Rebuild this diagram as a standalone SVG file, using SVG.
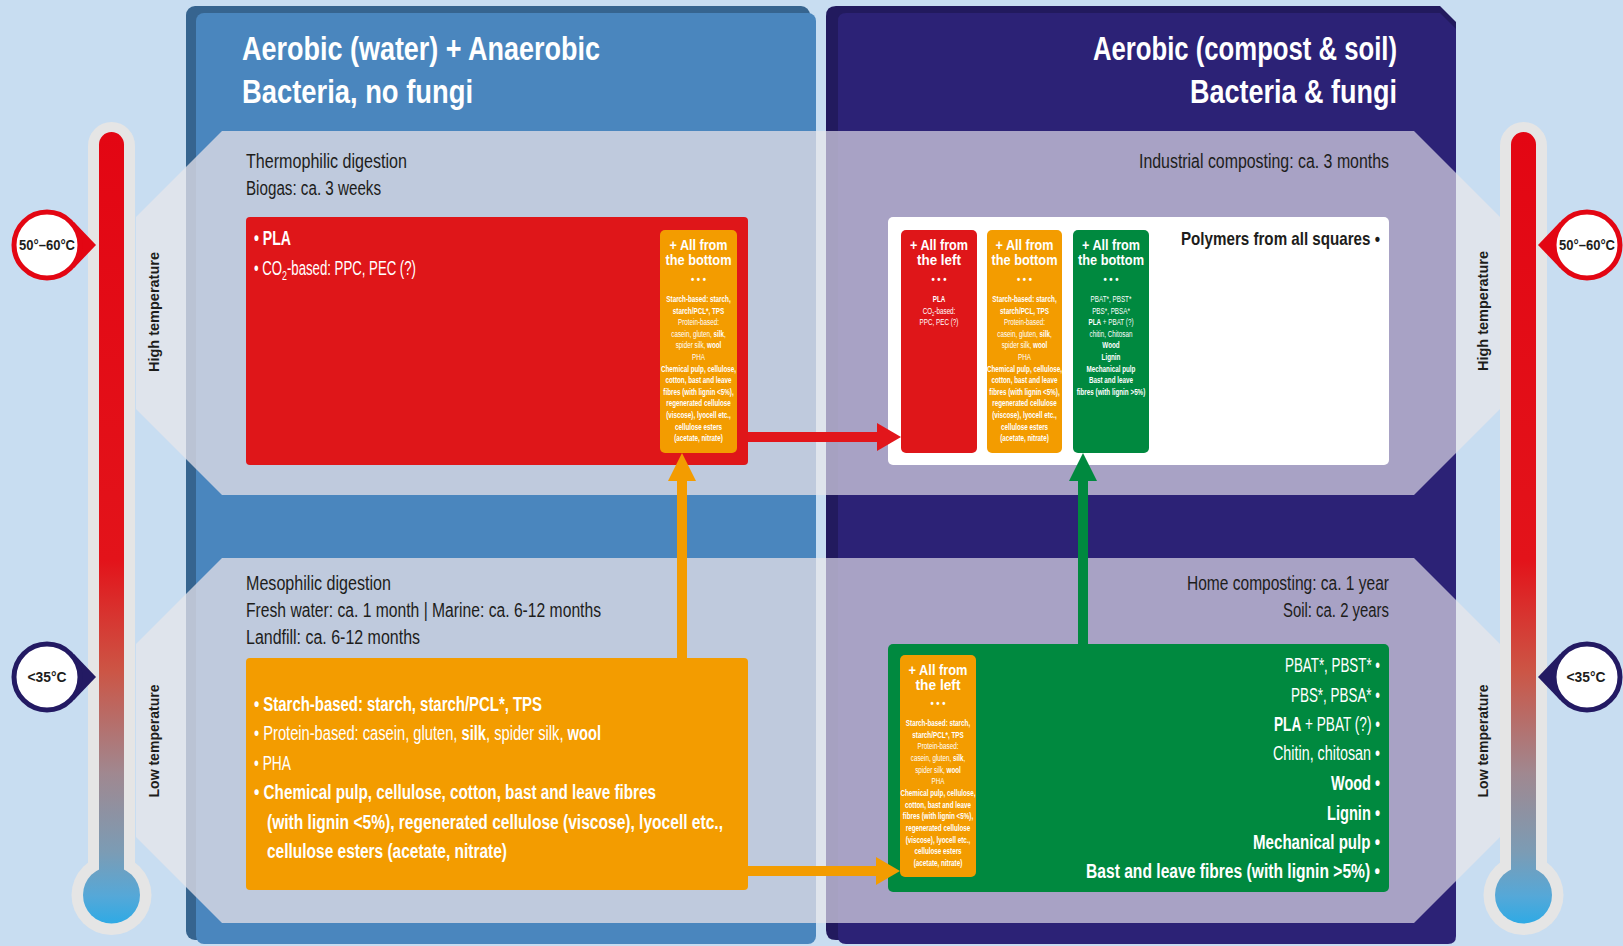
<svg xmlns="http://www.w3.org/2000/svg" width="1623" height="946" viewBox="0 0 1623 946">
<defs>
<style>
text{font-family:"Liberation Sans",Arial,sans-serif}
.b{font-weight:bold}
.title{font-size:34px;font-weight:bold;fill:#fff}
.sub{font-size:20px;fill:#1d1d1b}
.big{font-size:19.5px;fill:#fff}
.hdr{font-size:15px;font-weight:bold;fill:#fff;text-anchor:middle}
.dots{font-size:10px;font-weight:bold;fill:#fff;text-anchor:middle}
.mini{font-size:9px;fill:#fff;text-anchor:middle}
.vlab{font-size:15px;font-weight:bold;fill:#1d1d1b;text-anchor:middle}
.badge{font-size:14px;font-weight:bold;fill:#1d1d1b;text-anchor:middle}
.end{text-anchor:end}
</style>
<linearGradient id="thermoGrad" gradientUnits="userSpaceOnUse" x1="0" y1="132" x2="0" y2="924">
<stop offset="0" stop-color="#e30613"/>
<stop offset="0.54" stop-color="#e3131a"/>
<stop offset="0.68" stop-color="#cc5545"/>
<stop offset="0.81" stop-color="#a08890"/>
<stop offset="0.91" stop-color="#7b9cb5"/>
<stop offset="0.965" stop-color="#55a8d8"/>
<stop offset="1" stop-color="#2eaae5"/>
</linearGradient>
<polygon id="bandTop" points="222,131 1414,131 1500,217 1500,409 1414,495 222,495 136,409 136,217"/>
<polygon id="bandBot" points="222,558 1414,558 1500,644 1500,837 1414,923 222,923 136,837 136,644"/>
<clipPath id="cpBlue"><rect x="186" y="6" width="630" height="940"/></clipPath>
<clipPath id="cpNavy"><rect x="826" y="6" width="630" height="940"/></clipPath>
<g id="thermo">
<rect x="88" y="122" width="47" height="770" rx="23.5" fill="#e5e5e5"/>
<circle cx="111.5" cy="895" r="40" fill="#e5e5e5"/>
<rect x="99" y="132" width="25" height="760" rx="12.5" fill="url(#thermoGrad)"/>
<circle cx="111.5" cy="895" r="28.5" fill="url(#thermoGrad)"/>
</g>
</defs>

<rect x="0" y="0" width="1623" height="946" fill="#c8ddf1"/>

<g id="bands-outer">
<use href="#bandTop" fill="#dfe4ec"/>
<use href="#bandBot" fill="#dfe4ec"/>
</g>

<g id="panel-left">
<rect x="186" y="6" width="624" height="934" rx="9" fill="#36648f"/>
<rect x="196" y="13" width="620" height="931" rx="8" fill="#4a86be"/>
</g>
<g id="panel-right">
<path d="M826,16 Q826,6 836,6 L1440,6 L1456,22 L1456,930 Q1456,940 1446,940 L836,940 Q826,940 826,930 Z" fill="#221a5e"/>
<path d="M838,21 Q838,13 846,13 L1440,13 L1456,29 L1456,936 Q1456,944 1448,944 L846,944 Q838,944 838,936 Z" fill="#2c2276"/>
</g>

<g id="bands-inner">
<use href="#bandTop" clip-path="url(#cpBlue)" fill="#dcdbe5" fill-opacity="0.8"/>
<use href="#bandBot" clip-path="url(#cpBlue)" fill="#dcdbe5" fill-opacity="0.8"/>
<use href="#bandTop" clip-path="url(#cpNavy)" fill="#c8c3da" fill-opacity="0.8"/>
<use href="#bandBot" clip-path="url(#cpNavy)" fill="#c8c3da" fill-opacity="0.8"/>
</g>

<g id="thermometer-left"><use href="#thermo"/></g>
<g id="thermometer-right"><use href="#thermo" x="1412"/></g>

<g id="badge-left-high">
<polygon points="74,222 96,245 74,268" fill="#e30613"/>
<circle cx="47" cy="245" r="33" fill="#fff" stroke="#e30613" stroke-width="5"/>
<text class="badge" x="47" y="250" textLength="56" lengthAdjust="spacingAndGlyphs">50°–60°C</text>
</g>
<g id="badge-left-low">
<polygon points="74,654 96,677 74,700" fill="#231a63"/>
<circle cx="47" cy="677" r="33" fill="#fff" stroke="#231a63" stroke-width="5"/>
<text class="badge" x="47" y="682" textLength="39" lengthAdjust="spacingAndGlyphs">&lt;35°C</text>
</g>
<g id="badge-right-high">
<polygon points="1560,222 1538,245 1560,268" fill="#e30613"/>
<circle cx="1587" cy="245" r="33" fill="#fff" stroke="#e30613" stroke-width="5"/>
<text class="badge" x="1587" y="250" textLength="56" lengthAdjust="spacingAndGlyphs">50°–60°C</text>
</g>
<g id="badge-right-low">
<polygon points="1560,654 1538,677 1560,700" fill="#231a63"/>
<circle cx="1587" cy="677" r="33" fill="#fff" stroke="#231a63" stroke-width="5"/>
<text class="badge" x="1586" y="682" textLength="39" lengthAdjust="spacingAndGlyphs">&lt;35°C</text>
</g>

<g id="temp-labels">
<text class="vlab" transform="translate(159 312) rotate(-90)" textLength="120" lengthAdjust="spacingAndGlyphs">High temperature</text>
<text class="vlab" transform="translate(159 741) rotate(-90)" textLength="113" lengthAdjust="spacingAndGlyphs">Low temperature</text>
<text class="vlab" transform="translate(1488 311) rotate(-90)" textLength="120" lengthAdjust="spacingAndGlyphs">High temperature</text>
<text class="vlab" transform="translate(1488 741) rotate(-90)" textLength="113" lengthAdjust="spacingAndGlyphs">Low temperature</text>
</g>

<g id="title-left">
<text class="title" x="242" y="60" textLength="358" lengthAdjust="spacingAndGlyphs">Aerobic (water) + Anaerobic</text>
<text class="title" x="242" y="103" textLength="231" lengthAdjust="spacingAndGlyphs">Bacteria, no fungi</text>
</g>
<g id="title-right">
<text class="title end" x="1397" y="60" textLength="304" lengthAdjust="spacingAndGlyphs">Aerobic (compost &amp; soil)</text>
<text class="title end" x="1397" y="103" textLength="207" lengthAdjust="spacingAndGlyphs">Bacteria &amp; fungi</text>
</g>

<g id="label-thermophilic">
<text class="sub" x="246" y="168" textLength="161" lengthAdjust="spacingAndGlyphs">Thermophilic digestion</text>
<text class="sub" x="246" y="195" textLength="135" lengthAdjust="spacingAndGlyphs">Biogas: ca. 3 weeks</text>
</g>
<g id="label-industrial">
<text class="sub end" x="1389" y="168" textLength="250" lengthAdjust="spacingAndGlyphs">Industrial composting: ca. 3 months</text>
</g>
<g id="label-mesophilic">
<text class="sub" x="246" y="590" textLength="145" lengthAdjust="spacingAndGlyphs">Mesophilic digestion</text>
<text class="sub" x="246" y="617" textLength="355" lengthAdjust="spacingAndGlyphs">Fresh water: ca. 1 month | Marine: ca. 6-12 months</text>
<text class="sub" x="246" y="644" textLength="174" lengthAdjust="spacingAndGlyphs">Landfill: ca. 6-12 months</text>
</g>
<g id="label-home">
<text class="sub end" x="1389" y="590" textLength="202" lengthAdjust="spacingAndGlyphs">Home composting: ca. 1 year</text>
<text class="sub end" x="1389" y="617" textLength="106" lengthAdjust="spacingAndGlyphs">Soil: ca. 2 years</text>
</g>

<g id="box-thermophilic">
<rect x="246" y="217" width="502" height="248" rx="4" fill="#df1619"/>
<text class="big b" x="254" y="245" textLength="37" lengthAdjust="spacingAndGlyphs">• PLA</text>
<text class="big" x="254" y="275" textLength="162" lengthAdjust="spacingAndGlyphs">• CO<tspan font-size="13" dy="5">2</tspan><tspan dy="-5">-based: PPC, PEC (?)</tspan></text>
<g id="mini-bottom-1">
<rect x="660" y="230" width="77" height="223" rx="5" fill="#f39c00"/>
<text class="hdr" x="698.5" y="250" textLength="58" lengthAdjust="spacingAndGlyphs">+ All from</text>
<text class="hdr" x="698.5" y="265" textLength="66" lengthAdjust="spacingAndGlyphs">the bottom</text>
<text class="dots" x="698.5" y="283" textLength="15" lengthAdjust="spacingAndGlyphs">• • •</text>
<g transform="translate(698.5 0) scale(0.7 1)">
<text class="mini b" x="0" y="302">Starch-based: starch,</text>
<text class="mini b" x="0" y="313.6">starch/PCL*, TPS</text>
<text class="mini" x="0" y="325.2">Protein-based:</text>
<text class="mini" x="0" y="336.8">casein, gluten, <tspan class="b">silk</tspan>,</text>
<text class="mini" x="0" y="348.4">spider silk, <tspan class="b">wool</tspan></text>
<text class="mini" x="0" y="360">PHA</text>
<text class="mini b" x="0" y="371.6">Chemical pulp, cellulose,</text>
<text class="mini b" x="0" y="383.2">cotton, bast and leave</text>
<text class="mini b" x="0" y="394.8">fibres (with lignin &lt;5%),</text>
<text class="mini b" x="0" y="406.4">regenerated cellulose</text>
<text class="mini b" x="0" y="418">(viscose), lyocell etc.,</text>
<text class="mini b" x="0" y="429.6">cellulose esters</text>
<text class="mini b" x="0" y="441.2">(acetate, nitrate)</text>
</g>
</g>
</g>

<g id="box-industrial">
<rect x="888" y="217" width="501" height="248" rx="5" fill="#ffffff"/>
<text class="b end" x="1380" y="245" font-size="19" fill="#1d1d1b" textLength="199" lengthAdjust="spacingAndGlyphs">Polymers from all squares •</text>
<g id="col-left">
<rect x="901" y="230" width="76" height="223" rx="5" fill="#df1619"/>
<text class="hdr" x="939" y="250" textLength="58" lengthAdjust="spacingAndGlyphs">+ All from</text>
<text class="hdr" x="939" y="265" textLength="44" lengthAdjust="spacingAndGlyphs">the left</text>
<text class="dots" x="939" y="283" textLength="15" lengthAdjust="spacingAndGlyphs">• • •</text>
<g transform="translate(939 0) scale(0.7 1)">
<text class="mini b" x="0" y="302">PLA</text>
<text class="mini" x="0" y="313.6">CO<tspan font-size="6" dy="2">2</tspan><tspan dy="-2">-based:</tspan></text>
<text class="mini" x="0" y="325.2">PPC, PEC (?)</text>
</g>
</g>
<g id="col-bottom-orange">
<rect x="987" y="230" width="75" height="223" rx="5" fill="#f39c00"/>
<text class="hdr" x="1024.5" y="250" textLength="58" lengthAdjust="spacingAndGlyphs">+ All from</text>
<text class="hdr" x="1024.5" y="265" textLength="66" lengthAdjust="spacingAndGlyphs">the bottom</text>
<text class="dots" x="1024.5" y="283" textLength="15" lengthAdjust="spacingAndGlyphs">• • •</text>
<g transform="translate(1024.5 0) scale(0.7 1)">
<text class="mini b" x="0" y="302">Starch-based: starch,</text>
<text class="mini b" x="0" y="313.6">starch/PCL, TPS</text>
<text class="mini" x="0" y="325.2">Protein-based:</text>
<text class="mini" x="0" y="336.8">casein, gluten, <tspan class="b">silk</tspan>,</text>
<text class="mini" x="0" y="348.4">spider silk, <tspan class="b">wool</tspan></text>
<text class="mini" x="0" y="360">PHA</text>
<text class="mini b" x="0" y="371.6">Chemical pulp, cellulose,</text>
<text class="mini b" x="0" y="383.2">cotton, bast and leave</text>
<text class="mini b" x="0" y="394.8">fibres (with lignin &lt;5%),</text>
<text class="mini b" x="0" y="406.4">regenerated cellulose</text>
<text class="mini b" x="0" y="418">(viscose), lyocell etc.,</text>
<text class="mini b" x="0" y="429.6">cellulose esters</text>
<text class="mini b" x="0" y="441.2">(acetate, nitrate)</text>
</g>
</g>
<g id="col-bottom-green">
<rect x="1073" y="230" width="76" height="223" rx="5" fill="#00893f"/>
<text class="hdr" x="1111" y="250" textLength="58" lengthAdjust="spacingAndGlyphs">+ All from</text>
<text class="hdr" x="1111" y="265" textLength="66" lengthAdjust="spacingAndGlyphs">the bottom</text>
<text class="dots" x="1111" y="283" textLength="15" lengthAdjust="spacingAndGlyphs">• • •</text>
<g transform="translate(1111 0) scale(0.7 1)">
<text class="mini" x="0" y="302">PBAT*, PBST*</text>
<text class="mini" x="0" y="313.6">PBS*, PBSA*</text>
<text class="mini" x="0" y="325.2"><tspan class="b">PLA</tspan> + PBAT (?)</text>
<text class="mini" x="0" y="336.8">chitin, Chitosan</text>
<text class="mini b" x="0" y="348.4">Wood</text>
<text class="mini b" x="0" y="360">Lignin</text>
<text class="mini b" x="0" y="371.6">Mechanical pulp</text>
<text class="mini b" x="0" y="383.2">Bast and leave</text>
<text class="mini b" x="0" y="394.8">fibres (with lignin &gt;5%)</text>
</g>
</g>
</g>

<g id="box-mesophilic">
<rect x="246" y="658" width="502" height="232" rx="4" fill="#f39c00"/>
<text class="big b" x="254" y="711" textLength="288" lengthAdjust="spacingAndGlyphs">• Starch-based: starch, starch/PCL*, TPS</text>
<text class="big" x="254" y="740" textLength="347" lengthAdjust="spacingAndGlyphs">• Protein-based: casein, gluten, <tspan class="b">silk</tspan>, spider silk, <tspan class="b">wool</tspan></text>
<text class="big" x="254" y="770" textLength="37" lengthAdjust="spacingAndGlyphs">• PHA</text>
<text class="big b" x="254" y="799" textLength="402" lengthAdjust="spacingAndGlyphs">• Chemical pulp, cellulose, cotton, bast and leave fibres</text>
<text class="big b" x="267" y="829" textLength="456" lengthAdjust="spacingAndGlyphs">(with lignin &lt;5%), regenerated cellulose (viscose), lyocell etc.,</text>
<text class="big b" x="267" y="858" textLength="240" lengthAdjust="spacingAndGlyphs">cellulose esters (acetate, nitrate)</text>
</g>

<g id="box-home">
<rect x="888" y="644" width="501" height="248" rx="5" fill="#00893f"/>
<text class="big end" x="1380" y="672" font-size="18.5" textLength="95" lengthAdjust="spacingAndGlyphs">PBAT*, PBST* •</text>
<text class="big end" x="1380" y="702" font-size="18.5" textLength="89" lengthAdjust="spacingAndGlyphs">PBS*, PBSA* •</text>
<text class="big end" x="1380" y="731" font-size="18.5" textLength="106" lengthAdjust="spacingAndGlyphs"><tspan class="b">PLA</tspan> + PBAT (?) •</text>
<text class="big end" x="1380" y="760" font-size="18.5" textLength="107" lengthAdjust="spacingAndGlyphs">Chitin, chitosan •</text>
<text class="big b end" x="1380" y="790" font-size="18.5" textLength="49" lengthAdjust="spacingAndGlyphs">Wood •</text>
<text class="big b end" x="1380" y="820" font-size="18.5" textLength="53" lengthAdjust="spacingAndGlyphs">Lignin •</text>
<text class="big b end" x="1380" y="849" font-size="18.5" textLength="127" lengthAdjust="spacingAndGlyphs">Mechanical pulp •</text>
<text class="big b end" x="1380" y="878" font-size="18.5" textLength="294" lengthAdjust="spacingAndGlyphs">Bast and leave fibres (with lignin &gt;5%) •</text>
<g id="mini-left-2">
<rect x="900" y="655" width="76" height="222" rx="5" fill="#f39c00"/>
<text class="hdr" x="938" y="675" textLength="59" lengthAdjust="spacingAndGlyphs">+ All from</text>
<text class="hdr" x="938" y="690" textLength="45" lengthAdjust="spacingAndGlyphs">the left</text>
<text class="dots" x="938" y="707" textLength="15" lengthAdjust="spacingAndGlyphs">• • •</text>
<g transform="translate(938 0) scale(0.7 1)">
<text class="mini b" x="0" y="726">Starch-based: starch,</text>
<text class="mini b" x="0" y="737.7">starch/PCL*, TPS</text>
<text class="mini" x="0" y="749.3">Protein-based:</text>
<text class="mini" x="0" y="761">casein, gluten, <tspan class="b">silk</tspan>,</text>
<text class="mini" x="0" y="772.7">spider silk, <tspan class="b">wool</tspan></text>
<text class="mini" x="0" y="784.3">PHA</text>
<text class="mini b" x="0" y="796">Chemical pulp, cellulose,</text>
<text class="mini b" x="0" y="807.7">cotton, bast and leave</text>
<text class="mini b" x="0" y="819.3">fibres (with lignin &lt;5%),</text>
<text class="mini b" x="0" y="831">regenerated cellulose</text>
<text class="mini b" x="0" y="842.7">(viscose), lyocell etc.,</text>
<text class="mini b" x="0" y="854.3">cellulose esters</text>
<text class="mini b" x="0" y="866">(acetate, nitrate)</text>
</g>
</g>
</g>

<g id="connectors">
<g id="arrow-red">
<rect x="748" y="432" width="132" height="10" fill="#e2161b"/>
<polygon points="877,423 901,437 877,451" fill="#e2161b"/>
</g>
<g id="arrow-orange-up">
<rect x="677" y="478" width="10" height="181" fill="#f39c00"/>
<polygon points="668,481 682,453 696,481" fill="#f39c00"/>
</g>
<g id="arrow-orange-right">
<rect x="748" y="866" width="131" height="10" fill="#f39c00"/>
<polygon points="876,857 900,871 876,885" fill="#f39c00"/>
</g>
<g id="arrow-green-up">
<rect x="1078" y="478" width="10" height="167" fill="#00893f"/>
<polygon points="1069,481 1083,453 1097,481" fill="#00893f"/>
</g>
</g>
</svg>
